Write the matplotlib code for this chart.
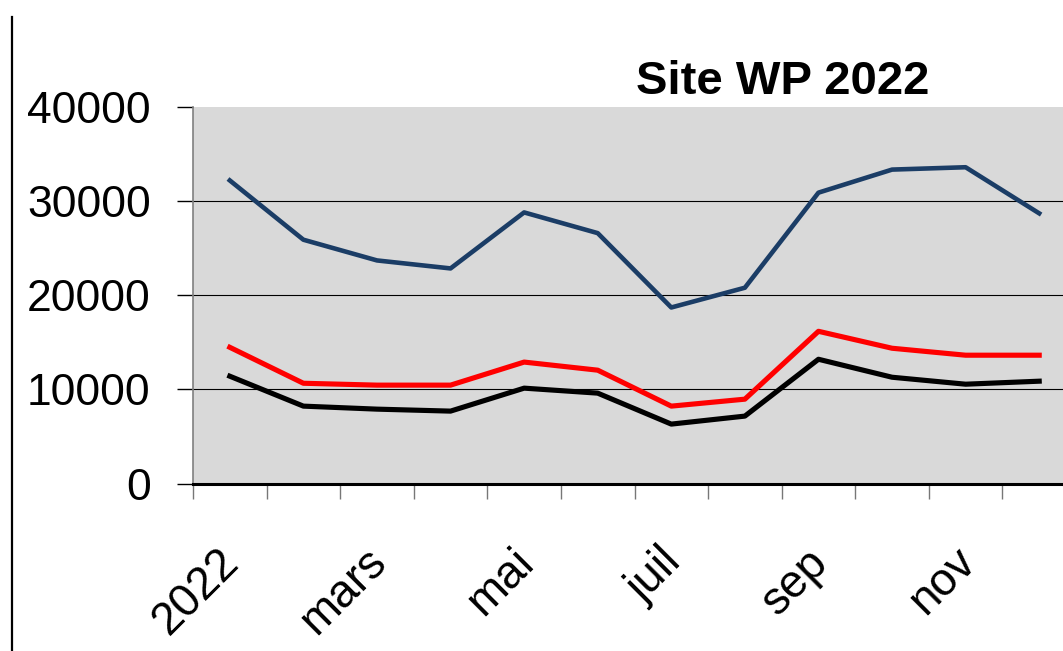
import numpy as np
import matplotlib
matplotlib.use("Agg")
import matplotlib.pyplot as plt
from matplotlib.lines import Line2D

plt.rcParams["font.family"] = ["Liberation Sans", "DejaVu Sans"]

# monthly values, Site WP 2022
months = ["jan", "fév", "mars", "avr", "mai", "juin",
          "juil", "août", "sep", "oct", "nov", "déc"]
tick_labels = ["2022", "mars", "mai", "juil", "sep", "nov"]
label_pos = [0, 2, 4, 6, 8, 10]

blue_vals = [32200, 25900, 23700, 22850, 28800, 26600,
             18700, 20800, 30900, 33350, 33600, 28700]
red_vals = [14470, 10650, 10450, 10450, 12900, 12040,
            8220, 8960, 16170, 14370, 13630, 13630]
black_vals = [11400, 8220, 7900, 7690, 10130, 9600,
              6310, 7160, 13200, 11290, 10550, 10870]

W, H = 1063, 651
fig = plt.figure(figsize=(W / 100, H / 100), dpi=100)

# plot area runs off the right edge of the picture, like the original crop
x0, x1 = 193, 1076
y0, y1 = 483.5, 107
ax = fig.add_axes([x0 / W, (H - y0) / H, (x1 - x0) / W, (y0 - y1) / H])
ax.set_facecolor("#d9d9d9")

x = np.arange(len(months))
ax.plot(x, blue_vals, color="#1b3d66", lw=3.3, zorder=3)
ax.plot(x, red_vals, color="#ff0000", lw=3.7, zorder=3)
ax.plot(x, black_vals, color="black", lw=3.7, zorder=3)

ax.set_xlim(-0.5, 11.5)
ax.set_ylim(0, 40000)

for g in [10000, 20000, 30000]:
    ax.axhline(g, color="black", lw=0.8, zorder=1)

ax.set_yticks([0, 10000, 20000, 30000, 40000])
ax.set_yticklabels(["0", "10000", "20000", "30000", "40000"])
ax.tick_params(axis="y", direction="out", length=11.5, width=1.0,
               color="black", labelsize=32, pad=19)

ax.set_xticks(np.arange(-0.5, 12, 1.0))
ax.set_xticklabels([])
ax.tick_params(axis="x", direction="out", length=11, width=1.0, color="#777777")

for i, lab in zip(label_pos, tick_labels):
    ax.annotate(lab, xy=(i, 0), xycoords=("data", "axes fraction"),
                xytext=(2, -52), textcoords="offset points",
                rotation=45, rotation_mode="anchor",
                ha="right", va="center", fontsize=33)

ax.spines["top"].set_visible(False)
ax.spines["right"].set_visible(False)
ax.spines["left"].set_color("#808080")
ax.spines["left"].set_linewidth(1.2)
ax.spines["bottom"].set_color("black")
ax.spines["bottom"].set_linewidth(2.2)
ax.spines["bottom"].set_zorder(4)

fig.text(783 / W, (H - 94) / H, "Site WP 2022", ha="center", va="baseline",
         fontsize=34, fontweight="bold")

# frame line on the left edge
fig.add_artist(Line2D([12 / W, 12 / W], [0, (H - 17) / H],
                      transform=fig.transFigure, color="black", lw=1.6))

fig.savefig("out.png", dpi=100)
